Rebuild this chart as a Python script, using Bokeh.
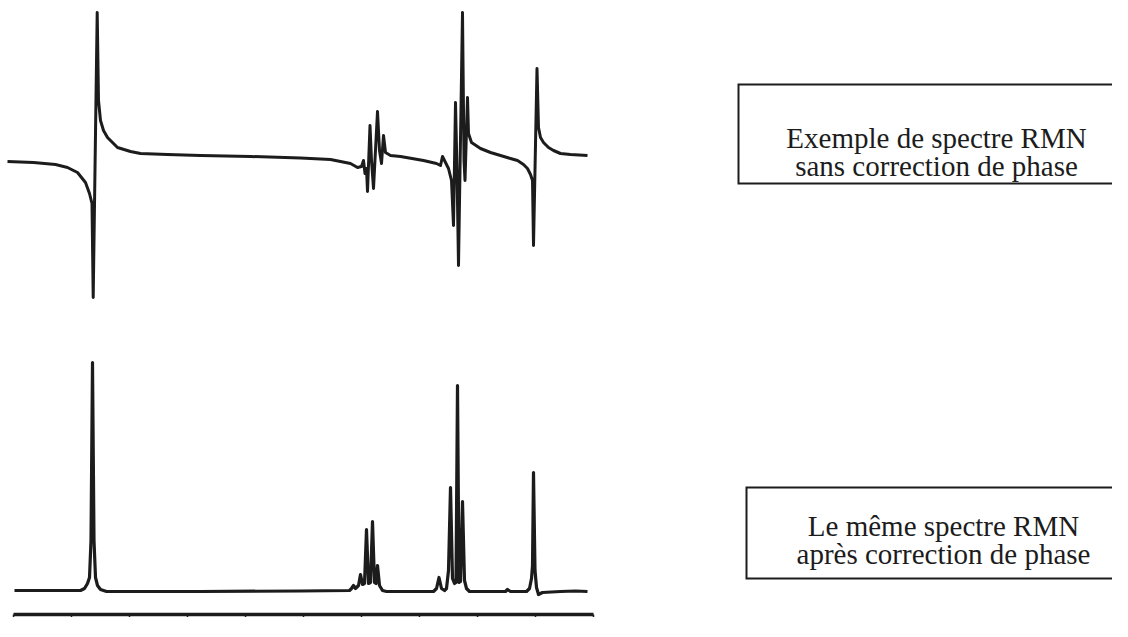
from bokeh.plotting import figure
from bokeh.models import Range1d, LinearAxis, FixedTicker, ColumnDataSource
from bokeh.core.properties import value
from bokeh.embed import file_html
from bokeh.resources import INLINE

# ---- data (x: frequency offset in Hz, decreasing to the right; y: relative intensity) ----
# spectrum without phase correction (dispersive line shapes)
raw_hz = [586, 560, 538, 526, 516, 508, 504, 501.5, 500.3, 496.3, 495, 493, 490, 486, 476, 463, 453,
          426, 393, 343, 293, 263, 253, 243, 236, 232, 230, 228.5, 227, 226, 223.5, 222, 220, 216, 214,
          212, 210, 208, 203, 193, 170, 157, 153, 151, 149, 145, 142, 140, 138, 136.5, 135, 131, 129.5,
          128.5, 126, 125, 122, 113, 103, 93, 83, 76, 70, 66, 63, 61, 60, 56.5, 55, 53, 50, 45, 40, 33,
          23, 6]
raw_int = [-3, -4, -6, -9, -14, -24, -35, -45, -139, 146, 58, 38, 28, 21, 11, 7, 5,
           4, 3, 2, 0.5, -1, -3, -5, -9, -8, -2, -15, -10, -33, 33, -2, -30, 47, 8,
           -5, 23, 6, 3, 2, -2, -5, -7, 2, -2, -10, -22, -67, 56, -12, -107, 146, -2,
           -22, 61, 25, 16, 10, 6, 3, 0, -2, -6, -10, -16, -22, -87, 90, 31, 21, 16, 11, 8, 5,
           4, 3]

# same spectrum after phase correction (absorptive line shapes)
cor_hz = [579, 513, 509, 506, 504, 502.5, 501, 499.5, 498, 496, 493, 487, 393, 293, 244, 242, 240, 238,
          235, 233, 231, 229, 227, 225, 223, 221, 219, 217.5, 216, 214, 211, 207, 160, 157, 154.5, 152,
          149, 147, 145, 143, 141, 139, 137.5, 136, 134.5, 133, 131, 129, 127, 124, 88, 86, 83, 67, 64,
          62, 61, 60, 58.5, 57, 55, 51, 33, 18, 6]
cor_int = [0, 0, 2, 7, 13, 50, 228, 50, 13, 5, 1, -1, -1, -0.5, 0, 2, 5, 2,
           5, 16, 6, 7, 61, 7, 8, 69, 8, 7, 25, 5, 0, -1, -1, 2, 13, 2,
           0, 2, 20, 103, 12, 7, 8, 205, 8, 9, 89, 10, 2, -1, -1, 1, -1, -1, 2,
           12, 25, 118, 20, 3, -4, -2, -1, -0.5, -1]

axis_ticks = [0, 58, 116, 174, 232, 290, 348, 406, 464, 522, 580]

label_top = ["Exemple de spectre RMN", "sans correction de phase"]
label_bottom = ["Le même spectre RMN", "après correction de phase"]

# ---- layout constants ----
INK = "#1c1c1c"
top_offset = 456
bottom_offset = 24

p = figure(frame_width=1112, frame_height=614, x_axis_type=None, y_axis_type=None,
           x_range=Range1d(593, -519), y_range=Range1d(0, 614),
           toolbar_location=None, output_backend="svg", min_border=0,
           background_fill_color="white", border_fill_color="white")
p.outline_line_color = None

src_raw = ColumnDataSource(dict(x=raw_hz, y=[v + top_offset for v in raw_int]))
src_cor = ColumnDataSource(dict(x=cor_hz, y=[v + bottom_offset for v in cor_int]))
p.line("x", "y", source=src_raw, line_color=INK, line_width=3.0, line_join="round")
p.line("x", "y", source=src_cor, line_color=INK, line_width=3.2, line_join="round")

# ruler (frequency axis), labels hidden
ax = LinearAxis(ticker=FixedTicker(ticks=axis_ticks), bounds=(0, 580))
ax.axis_line_width = 3.5
ax.axis_line_color = INK
ax.major_tick_out = 3
ax.major_tick_in = 0
ax.major_tick_line_width = 1.5
ax.major_tick_line_color = INK
ax.minor_tick_line_color = None
ax.major_label_text_font_size = "1px"
ax.major_label_text_color = None
ax.major_label_standoff = 0
p.add_layout(ax, "below")

# text boxes: open on the right, where the scan cuts them off
box_left = [-145, -153]
box_top = [530, 127]
box_bottom = [431, 36]
box_far = -560
xs, ys = [], []
for l, t, b in zip(box_left, box_top, box_bottom):
    xs.append([box_far, l, l, box_far])
    ys.append([t, t, b, b])
p.multi_line(xs=xs, ys=ys, line_color=INK, line_width=2, line_join="miter")

txt = ColumnDataSource(dict(
    x=[-343, -343, -350, -350],
    y=[477, 449, 89, 61],
    t=label_top + label_bottom,
))
p.text("x", "y", text="t", source=txt, text_font=value("Liberation Serif"),
       text_font_size="29px", text_align="center", text_baseline="alphabetic", text_color=INK)

open("out.html", "w").write(file_html(p, INLINE))
